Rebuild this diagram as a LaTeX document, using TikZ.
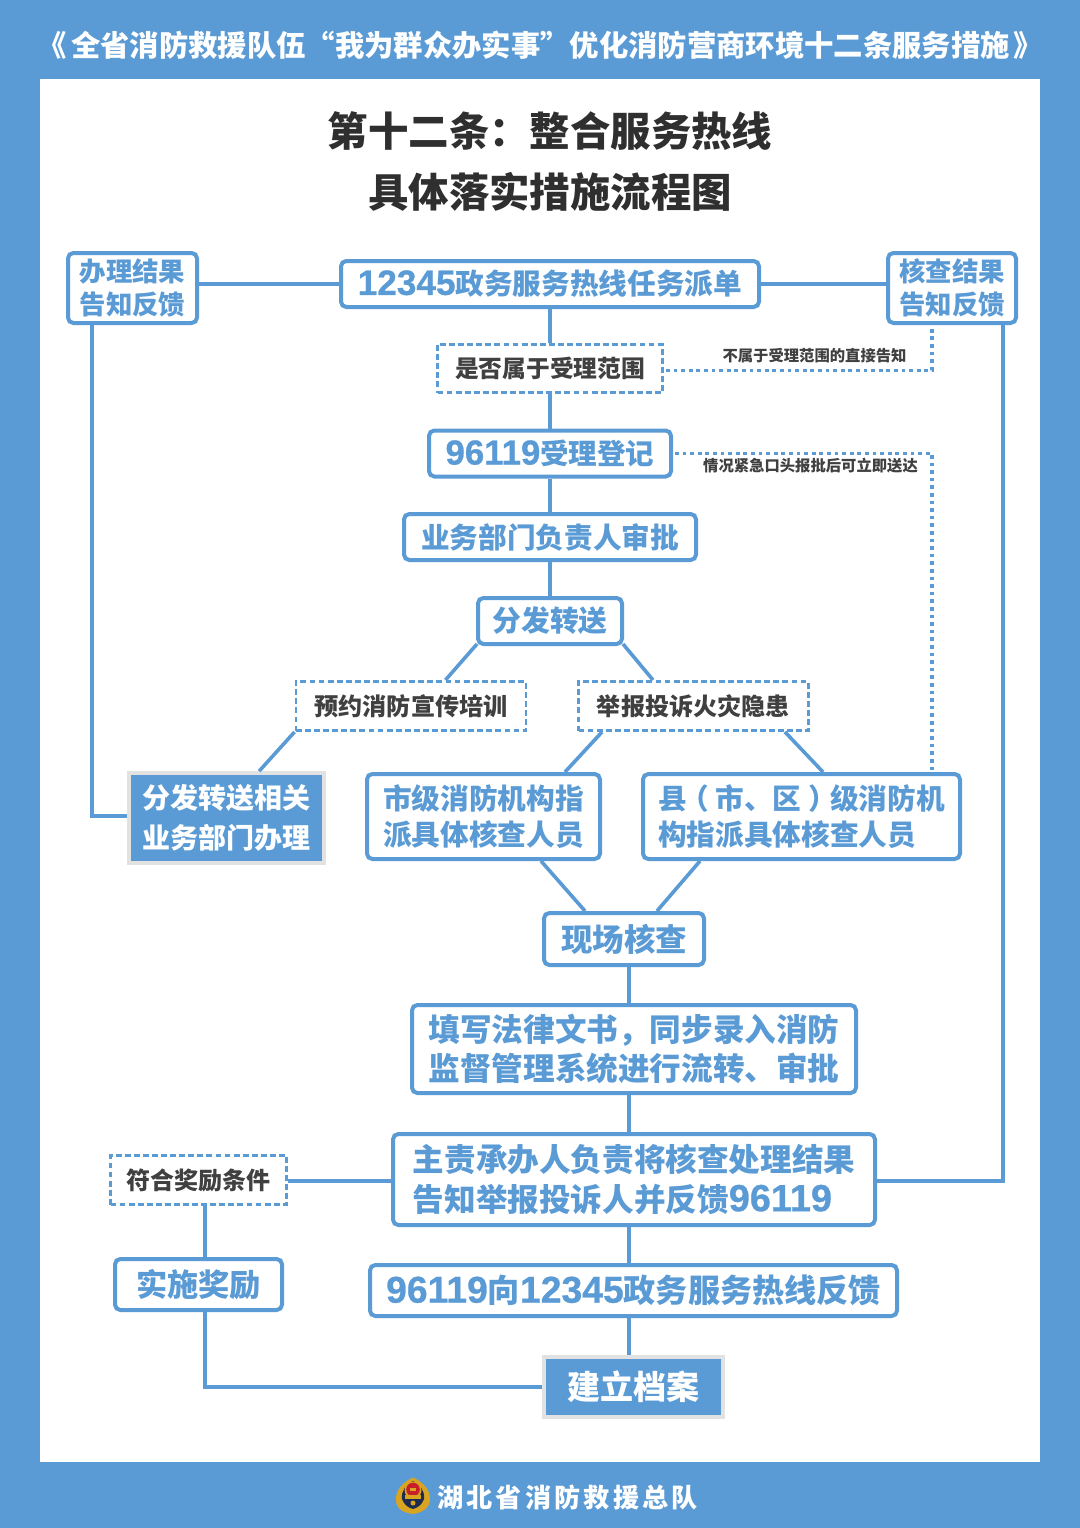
\documentclass[tikz,border=0pt]{standalone}
\usepackage{fontspec}
\setmainfont{Noto Sans CJK SC}
\newfontfamily\digfont[FakeBold=0.7]{Liberation Sans}
\usetikzlibrary{calc}
\definecolor{fireblue}{HTML}{5B9BD5}
\definecolor{inkdark}{HTML}{404040}
\definecolor{titledark}{HTML}{2F2F2F}
\definecolor{edgegray}{HTML}{E2E2E2}
\definecolor{badgegold}{HTML}{D9A520}
\definecolor{badgenavy}{HTML}{1F2A50}
\definecolor{badgered}{HTML}{C8202A}
\tikzset{
  wh/.style 2 args={minimum width=#1*0.75pt,minimum height=#2*0.75pt},
  solidbox/.style={draw=fireblue,line width=3pt,rounded corners=4pt,fill=white,text=fireblue,inner sep=0pt,align=center,font=\bfseries},
  dashbox/.style={draw=fireblue,line width=2.2pt,dash pattern=on 4.4pt off 2.4pt,fill=white,text=inkdark,inner sep=0pt,align=center,font=\bfseries},
  fillbox/.style={draw=edgegray,line width=2.8pt,fill=fireblue,text=white,inner sep=0pt,align=center,font=\bfseries},
  link/.style={draw=fireblue,line width=2.7pt},
  dotlink/.style={draw=fireblue,line width=2.7pt,dash pattern=on 2.8pt off 2.9pt},
  smalllabel/.style={text=inkdark,inner sep=0pt,font=\bfseries\fontsize{11.5pt}{13pt}\selectfont},
}
\begin{document}
\begin{tikzpicture}[x=0.75pt,y=-0.75pt]
\useasboundingbox (0,0) rectangle (1080,1528);
\fill[fireblue] (0,0) rectangle (1080,1528);
\fill[white] (40,79) rectangle (1040,1462);

\node[text=white,inner sep=0pt,font=\bfseries\fontsize{22pt}{26pt}\selectfont] (head) at (540.5,45) {《\hspace{3pt}全省消防救援队伍“我为群众办实事”优化消防营商环境十二条服务措施\hspace{3pt}》};
\node[text=titledark,inner sep=0pt,font=\bfseries\fontsize{30.3pt}{36pt}\selectfont] (t1) at (550,131) {第十二条：整合服务热线};
\node[text=titledark,inner sep=0pt,font=\bfseries\fontsize{30.3pt}{36pt}\selectfont] (t2) at (550,192) {具体落实措施流程图};

% axes for connectors
\coordinate (axisA) at (92,0);
\coordinate (axisB) at (1003,0);
\coordinate (axisC) at (629,0);
\coordinate (axisD) at (205,0);
\coordinate (axisE) at (932,0);

\node[solidbox,wh={418}{46},font=\bfseries\fontsize{21.5pt}{26pt}\selectfont] (hotline) at (550,284) {{\digfont\fontsize{26.4pt}{26pt}\selectfont 12345}政务服务热线任务派单};
\node[solidbox,wh={129}{70},font=\bfseries\fontsize{19.8pt}{24.6pt}\selectfont] (banjie) at (132.5,288) {办理结果\\告知反馈};
\node[solidbox,wh={128}{70},font=\bfseries\fontsize{19.8pt}{24.6pt}\selectfont] (hecha) at (952,288) {核查结果\\告知反馈};
\node[dashbox,wh={225}{48},font=\bfseries\fontsize{17.8pt}{21pt}\selectfont] (shifou) at (550,368.5) {是否属于受理范围};
\node[solidbox,wh={242}{46},font=\bfseries\fontsize{21.4pt}{26pt}\selectfont] (s96119) at (550,453.5) {{\digfont\fontsize{26.1pt}{26pt}\selectfont 96119}受理登记};
\node[solidbox,wh={292}{46},font=\bfseries\fontsize{21.5pt}{24pt}\selectfont] (yewu) at (550,537) {业务部门负责人审批};
\node[solidbox,wh={144}{46},font=\bfseries\fontsize{21.6pt}{26pt}\selectfont] (fenfa) at (550,621) {分发转送};
\node[dashbox,wh={230}{49},font=\bfseries\fontsize{18.1pt}{22pt}\selectfont] (yuyue) at (411,706) {预约消防宣传培训};
\node[dashbox,wh={230}{49},font=\bfseries\fontsize{18.1pt}{22pt}\selectfont] (jubao) at (693.5,706) {举报投诉火灾隐患};
\node[fillbox,wh={195}{90},font=\bfseries\fontsize{21pt}{30.5pt}\selectfont] (zhuansong) at (226.5,818) {分发转送相关\\业务部门办理};
\node[solidbox,wh={233}{85},font=\bfseries\fontsize{21.5pt}{27pt}\selectfont] (shiji) at (483.5,816.5) {市级消防机构指\\派具体核查人员};
\node[solidbox,wh={317}{85},align=left,font=\bfseries\fontsize{21.5pt}{27pt}\selectfont] (xian) at (801.5,816.5) {县\hspace{-5pt}（\hspace{5pt}市、区\hspace{5pt}）\hspace{-5pt}级消防机\\构指派具体核查人员};
\node[solidbox,wh={160}{52},font=\bfseries\fontsize{23.6pt}{28pt}\selectfont] (xianchang) at (624,939) {现场核查};
\node[solidbox,wh={444}{88},font=\bfseries\fontsize{23.7pt}{29pt}\selectfont] (tianxie) at (634,1049) {填写法律文书，同步录入消防\\监督管理系统进行流转、审批};
\node[solidbox,wh={482}{91},align=left,font=\bfseries\fontsize{23.7pt}{29.5pt}\selectfont] (zhuze) at (634,1179.5) {主责承办人负责将核查处理结果\\告知举报投诉人并反馈{\digfont\fontsize{28.4pt}{29.5pt}\selectfont 96119}};
\node[dashbox,wh={176}{49},font=\bfseries\fontsize{18pt}{22pt}\selectfont] (fuhe) at (198.5,1180) {符合奖励条件};
\node[solidbox,wh={167}{51},font=\bfseries\fontsize{23.4pt}{28pt}\selectfont] (shishi) at (198.5,1284.5) {实施奖励};
\node[solidbox,wh={527}{51},font=\bfseries\fontsize{24.1pt}{30pt}\selectfont] (fankui) at (633.5,1290.5) {{\digfont\fontsize{28pt}{30pt}\selectfont 96119}向{\digfont\fontsize{28pt}{30pt}\selectfont 12345}政务服务热线反馈};
\node[fillbox,wh={179}{60},font=\bfseries\fontsize{24.8pt}{30pt}\selectfont] (jianli) at (633.5,1387) {建立档案};

% solid connectors
\draw[link] (hotline.west) -- (banjie.east |- hotline.west);
\draw[link] (hotline.east) -- (hecha.west |- hotline.east);
\draw[link] (hotline.south) -- (shifou.north);
\draw[link] (shifou.south) -- (s96119.north);
\draw[link] (s96119.south) -- (yewu.north);
\draw[link] (yewu.south) -- (fenfa.north);
\draw[link] ($(fenfa.south west)+(1,-2)$) -- ($(yuyue.north east)+(-82,0)$);
\draw[link] ($(fenfa.south east)+(-1,-2)$) -- ($(jubao.north west)+(76,0)$);
\draw[link] (yuyue.south west) -- ($(zhuansong.north west)+(132,0)$);
\draw[link] ($(jubao.south west)+(25,0)$) -- ($(shiji.north east)+(-37,0)$);
\draw[link] ($(jubao.south east)+(-25,0)$) -- ($(xian.north east)+(-139,0)$);
\draw[link] ($(shiji.south east)+(-61,0)$) -- ($(xianchang.north west)+(43,0)$);
\draw[link] ($(xian.south west)+(59,0)$) -- ($(xianchang.north east)+(-49,0)$);
\draw[link] (xianchang.south -| axisC) -- (tianxie.north -| axisC);
\draw[link] (tianxie.south -| axisC) -- (zhuze.north -| axisC);
\draw[link] (zhuze.south -| axisC) -- (fankui.north -| axisC);
\draw[link] (fankui.south -| axisC) -- (jianli.north -| axisC);
\draw[link] (banjie.south -| axisA) |- ($(zhuansong.west)+(0,-2)$);
\draw[link] (hecha.south -| axisB) |- ($(zhuze.east)+(0,1.5)$);
\draw[link] ($(fuhe.east)+(0,1)$) -- ($(zhuze.west)+(0,1.5)$);
\draw[link] (fuhe.south -| axisD) -- (shishi.north -| axisD);
\draw[link] (shishi.south -| axisD) |- (jianli.west);

% dotted connectors
\draw[dotlink] ($(shifou.east)+(2,2)$) -| (hecha.south -| axisE);
\draw[dotlink] ($(s96119.east)+(2,0)$) -| (xian.north -| axisE);

\node[smalllabel] (lab1) at (814.5,356) {不属于受理范围的直接告知};
\node[smalllabel] (lab2) at (810.5,466) {情况紧急口头报批后可立即送达};

% badge
\fill[badgegold] (413,1477.5) .. controls (423,1482) and (431,1490) .. (430,1501) .. controls (428,1510) and (420,1513) .. (413,1514) .. controls (405,1513) and (397,1510) .. (396,1501) .. controls (395,1490) and (403,1482) .. (413,1477.5) -- cycle;
\fill[badgenavy] (413,1481) .. controls (420,1484) and (425,1491) .. (424,1499) .. controls (422,1505) and (417,1508) .. (413,1509) .. controls (409,1508) and (404,1505) .. (402,1499) .. controls (401,1491) and (406,1484) .. (413,1481) -- cycle;
\fill[badgegold] (413,1490) circle [radius=8.5];
\fill[badgered] (413,1489.5) circle [radius=6.8];
\fill[badgegold] (410,1488) rectangle (416,1491);
\fill[badgegold] (405,1495) rectangle (421,1499);
\fill[badgegold] (413,1503) circle [radius=2.5];

\node[text=white,inner sep=0pt,font=\bfseries\fontsize{19.6pt}{24pt}\selectfont,anchor=west] (foot) at (437,1497) {湖\hspace{2.4pt}北\hspace{2.4pt}省\hspace{2.4pt}消\hspace{2.4pt}防\hspace{2.4pt}救\hspace{2.4pt}援\hspace{2.4pt}总\hspace{2.4pt}队};
\end{tikzpicture}
\end{document}
